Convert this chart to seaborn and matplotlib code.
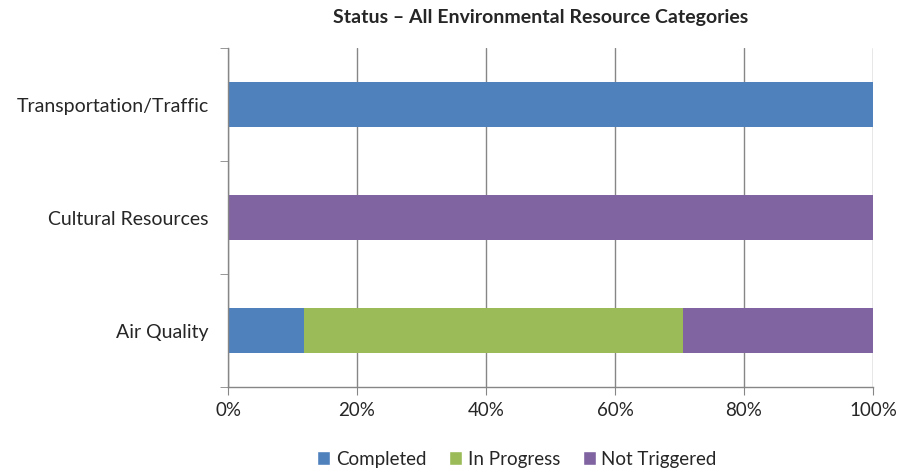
import matplotlib
matplotlib.use("Agg")
import matplotlib.pyplot as plt
import seaborn as sns
import pandas as pd
import numpy as np
from matplotlib.patches import Patch
from matplotlib.ticker import FixedLocator, PercentFormatter

categories = ["Transportation/Traffic", "Cultural Resources", "Air Quality"]
completed = [100.0, 0.0, 11.76]
in_progress = [0.0, 0.0, 58.82]
not_triggered = [0.0, 100.0, 29.42]
series_names = ["Completed", "In Progress", "Not Triggered"]
colors = ["#4F81BD", "#9BBB59", "#8064A2"]

sns.set_style("white")
plt.rcParams["font.family"] = ["Lato", "DejaVu Sans"]

df = pd.DataFrame({"category": categories, "Completed": completed,
                   "In Progress": in_progress, "Not Triggered": not_triggered})
df["c1"] = df["Completed"]
df["c2"] = df["c1"] + df["In Progress"]
df["c3"] = df["c2"] + df["Not Triggered"]

fig = plt.figure(figsize=(8.99, 4.73), dpi=100)
ax = fig.add_axes([228/899, 1-387/473, (873-228)/899, (387-48)/473])

width = 0.39
for col, color in zip(["c3", "c2", "c1"], colors[::-1]):
    sns.barplot(data=df, x=col, y="category", order=categories, orient="h",
                color=color, width=width, saturation=1, ax=ax, linewidth=0)

ax.set_xlim(0, 100)
ax.set_ylim(2.5, -0.5)
ax.set_xticks(np.arange(0, 101, 20))
ax.xaxis.set_major_formatter(PercentFormatter(decimals=0))
ax.grid(axis="x", color="#868686", linewidth=1.0)
ax.set_axisbelow(True)
ax.set_xlabel("")
ax.set_ylabel("")
for s in ["top", "right"]:
    ax.spines[s].set_visible(False)
for s in ["left", "bottom"]:
    ax.spines[s].set_color("#868686")
    ax.spines[s].set_linewidth(1.0)

ax.yaxis.set_minor_locator(FixedLocator([-0.5, 0.5, 1.5, 2.5]))
ax.tick_params(axis="y", which="major", length=0, pad=14, labelsize=14)
ax.tick_params(axis="y", which="minor", length=6, color="#868686", direction="out", left=True)
ax.tick_params(axis="x", which="major", length=6, color="#868686", direction="out", bottom=True, labelsize=13.5, pad=5)

fig.text(541/899, 1-18/473, "Status – All Environmental Resource Categories",
         ha="center", va="center", fontsize=14, fontweight="bold")

handles = [Patch(facecolor=c, label=n) for c, n in zip(colors, series_names)]
fig.legend(handles=handles, loc="center", bbox_to_anchor=(517/899, 1-459/473), ncol=3,
           frameon=False, fontsize=13.5, handlelength=0.7, handleheight=0.7,
           handletextpad=0.3, columnspacing=1.2)

fig.savefig("out.png", dpi=100)
